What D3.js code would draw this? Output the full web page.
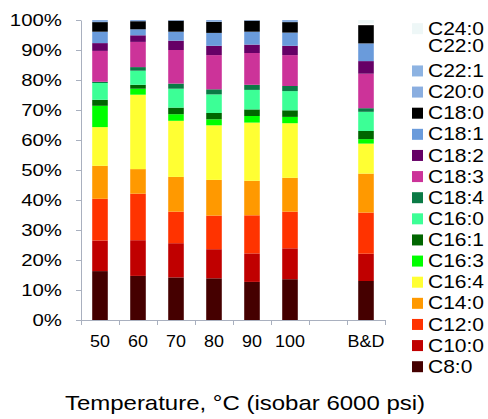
<!DOCTYPE html>
<html><head><meta charset="utf-8">
<script src="https://cdn.jsdelivr.net/npm/d3@7"></script>
<style>html,body{margin:0;padding:0;background:#fff;}svg{display:block;font-family:"Liberation Sans",Arial,sans-serif;}</style>
</head><body>
<script>
// Categories (x axis); the blank one is the empty slot before B&D
const categories = ["50","60","70","80","90","100","","B&D"];
// Stack order from bottom to top
const series = ["C8:0","C10:0","C12:0","C14:0","C16:4","C16:3","C16:1","C16:0","C18:4","C18:3","C18:2","C18:1","C18:0","C20:0","C22:1","C22:0","C24:0"];
const colors = ["#450000","#C00000","#FF3300","#FF9900","#FFFF33","#00FF00","#006600","#3CFF96","#0A7A45","#CC3399","#660066","#6A9BDB","#000000","#8AAEE0","#8DB3E2","#FFFFFF","#EEF7F7"];
// Percent values per series, one entry per category (same order as categories)
const v_C8_0  = [16.3,14.7,14.2,13.9,12.7,13.6,0,13.0];
const v_C10_0 = [10.2,11.9,11.4, 9.7, 9.5,10.3,0, 9.1];
const v_C12_0 = [13.9,15.5,10.5,11.2,12.7,12.2,0,13.7];
const v_C14_0 = [11.0, 8.2,11.6,11.9,11.5,11.3,0,13.0];
const v_C16_4 = [12.9,24.8,18.7,18.2,19.4,18.2,0,10.0];
const v_C16_3 = [ 7.1, 2.0, 2.2, 2.0, 2.2, 2.1,0, 1.5];
const v_C16_1 = [ 2.0, 1.3, 2.2, 2.1, 2.2, 2.2,0, 2.7];
const v_C16_0 = [ 5.6, 4.7, 6.3, 6.2, 6.5, 6.4,0, 6.4];
const v_C18_4 = [ 0.4, 1.2, 1.7, 1.7, 1.7, 1.7,0, 1.2];
const v_C18_3 = [10.3, 8.4,11.2,11.4,10.6,10.3,0,11.5];
const v_C18_2 = [ 2.6, 2.2, 3.1, 3.1, 2.8, 3.1,0, 4.2];
const v_C18_1 = [ 3.8, 2.0, 3.0, 4.3, 4.3, 4.4,0, 5.9];
const v_C18_0 = [ 3.2, 2.7, 3.7, 3.7, 3.7, 3.5,0, 6.1];
const v_C20_0 = [ 0.7, 0.4, 0.2, 0.6, 0.2, 0.7,0, 0.0];
const v_C22_1 = [ 0.0, 0.0, 0.0, 0.0, 0.0, 0.0,0, 0.0];
const v_C22_0 = [ 0.0, 0.0, 0.0, 0.0, 0.0, 0.0,0, 0.5];
const v_C24_0 = [ 0.0, 0.0, 0.0, 0.0, 0.0, 0.0,0, 1.2];
const yTicks = [0,10,20,30,40,50,60,70,80,90,100];
const xTitle = "Temperature, °C (isobar 6000 psi)";

const valueLists = [v_C8_0,v_C10_0,v_C12_0,v_C14_0,v_C16_4,v_C16_3,v_C16_1,v_C16_0,v_C18_4,v_C18_3,v_C18_2,v_C18_1,v_C18_0,v_C20_0,v_C22_1,v_C22_0,v_C24_0];
const table = categories.map((c,i)=>{const r={cat:c}; series.forEach((s,k)=>r[s]=valueLists[k][i]); return r;});

const W=488,H=419, SX=1.2;
const svg=d3.select("body").append("svg").attr("width",W).attr("height",H);
const x=d3.scaleBand().domain(categories).range([81,385]).paddingInner(0.59).paddingOuter(0.295);
const y=d3.scaleLinear().domain([0,100]).range([320,20]);
const color=d3.scaleOrdinal().domain(series).range(colors);
const axisColor="#A9B0BF";

const stacked=d3.stack().keys(series)(table);
svg.append("g").selectAll("g").data(stacked).join("g").attr("fill",d=>color(d.key))
  .selectAll("rect").data(d=>d).join("rect")
  .attr("x",d=>x(d.data.cat)).attr("width",x.bandwidth())
  .attr("y",d=>y(d[1])).attr("height",d=>Math.max(0,y(d[0])-y(d[1])));

// Y axis
const ya=svg.append("g").attr("transform","translate(81,0)")
  .call(d3.axisLeft(y).tickValues(yTicks).tickFormat(d=>d+"%").tickSize(5).tickSizeOuter(0));
ya.select(".domain").attr("stroke",axisColor);
ya.selectAll(".tick line").attr("stroke",axisColor);
ya.selectAll(".tick text").attr("x",-19/SX).attr("transform",`scale(${SX},1)`)
  .attr("font-size",17).attr("fill","#000").attr("font-family","Liberation Sans, Arial, sans-serif");

// X axis (labels at centers, ticks on band boundaries)
const xa=svg.append("g").attr("transform","translate(0,320)")
  .call(d3.axisBottom(x).tickSize(0).tickSizeOuter(0));
xa.select(".domain").attr("stroke",axisColor);
xa.selectAll(".tick text").attr("y",0).attr("dy",0)
  .attr("transform",`translate(0,27) scale(1.12,1)`)
  .attr("font-size",16).attr("fill","#000").attr("font-family","Liberation Sans, Arial, sans-serif");
const bounds=categories.map((c,i)=>x.range()[0]+i*x.step());
bounds.push(x.range()[1]);
svg.append("g").selectAll("line").data(bounds).join("line")
  .attr("x1",d=>Math.round(d)+0.5).attr("x2",d=>Math.round(d)+0.5).attr("y1",320).attr("y2",325)
  .attr("stroke",axisColor);

// Title
svg.append("text").attr("transform",`translate(245,410) scale(${SX},1)`)
  .attr("text-anchor","middle").attr("font-size",20).attr("fill","#000").text(xTitle);

// Legend (top to bottom = reverse stack order)
const legendKeys=series.slice().reverse();
const ly=d3.scalePoint().domain(legendKeys).range([28.7,366.7]);
const nudge={"C22:0":-4};
const lg=svg.append("g").selectAll("g").data(legendKeys).join("g")
  .attr("transform",d=>`translate(412,${ly(d)+(nudge[d]||0)})`);
lg.append("rect").attr("x",0).attr("y",-5.5).attr("width",11).attr("height",11).attr("fill",d=>color(d));
lg.append("text").attr("transform",`translate(16,0) scale(${SX},1)`).attr("dy","0.35em")
  .attr("font-size",17.5).attr("fill","#000").text(d=>d);
</script>
</body></html>
